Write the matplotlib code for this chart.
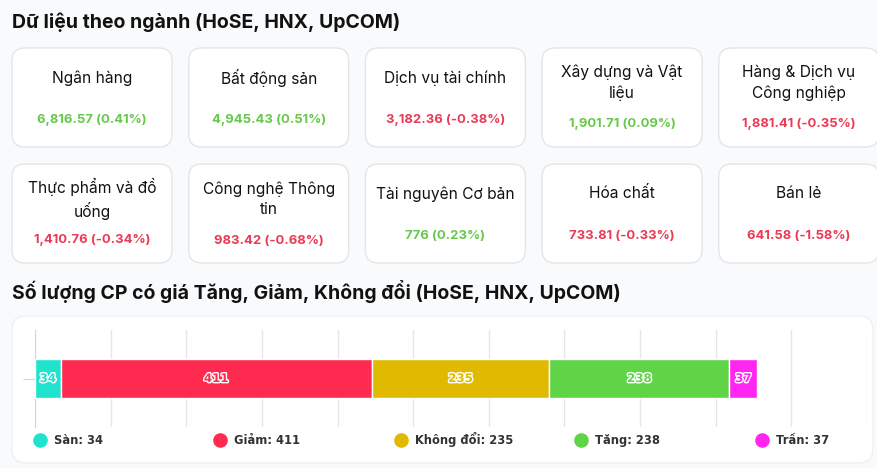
import matplotlib
matplotlib.use("Agg")
import matplotlib.pyplot as plt
from matplotlib.patches import FancyBboxPatch
import matplotlib.patheffects as pe

# sector cards
sector_names = ["Ngân hàng", "Bất động sản", "Dịch vụ tài chính", "Xây dựng và Vật\nliệu",
                "Hàng & Dịch vụ\nCông nghiệp", "Thực phẩm và đồ\nuống", "Công nghệ Thông\ntin",
                "Tài nguyên Cơ bản", "Hóa chất", "Bán lẻ"]
sector_values = [6816.57, 4945.43, 3182.36, 1901.71, 1881.41, 1410.76, 983.42, 776, 733.81, 641.58]
sector_changes = [0.41, 0.51, -0.38, 0.09, -0.35, -0.34, -0.68, 0.23, -0.33, -1.58]

# stock counts
count_labels = ["Sàn", "Giảm", "Không đổi", "Tăng", "Trần"]
count_values = [34, 411, 235, 238, 37]
count_colors = ["#1fe3cd", "#ff2a50", "#dfba00", "#5fd446", "#ff26f2"]

UP = "#66c94a"
DOWN = "#ea3a55"
FONT = ["Inter", "DejaVu Sans"]

W, H = 878, 468
fig = plt.figure(figsize=(W / 100, H / 100), dpi=100)
fig.patch.set_facecolor("#f9fafb")

bg = fig.add_axes([0, 0, 1, 1])
bg.set_xlim(0, W)
bg.set_ylim(H, 0)
bg.axis("off")


def fmt_value(v):
    if float(v).is_integer():
        return f"{int(v):,}"
    return f"{v:,.2f}"


bg.text(12, 22, "Dữ liệu theo ngành (HoSE, HNX, UpCOM)", fontsize=14,
        fontweight="bold", family=FONT, va="center", ha="left", color="#111")

card_w, card_h, step = 160, 99, 176.7
row_tops = [48, 164]
for i, (name, val, chg) in enumerate(zip(sector_names, sector_values, sector_changes)):
    row, col = divmod(i, 5)
    x0 = 12 + col * step
    y0 = row_tops[row]
    bg.add_patch(FancyBboxPatch((x0, y0), card_w, card_h,
                                boxstyle="round,pad=0,rounding_size=13",
                                fc="white", ec="#e3e5e8", lw=1))
    n = name.count("\n") + 1
    c = y0 + card_h / 2
    bg.text(x0 + card_w / 2, c - 19.5 + 5 * (n - 1), name, fontsize=11.2, family=FONT,
            ha="center", va="center", color="#111", linespacing=1.45)
    bg.text(x0 + card_w / 2, c + 22.5 + 4.5 * (n - 1), f"{fmt_value(val)} ({chg:.2f}%)",
            fontsize=9.4, fontweight="bold", family=FONT, ha="center", va="center",
            color=UP if chg >= 0 else DOWN)

bg.text(12, 292, "Số lượng CP có giá Tăng, Giảm, Không đổi (HoSE, HNX, UpCOM)",
        fontsize=14, fontweight="bold", family=FONT, va="center", ha="left", color="#111")

bg.add_patch(FancyBboxPatch((12, 316), 861, 147, boxstyle="round,pad=0,rounding_size=14",
                            fc="white", ec="#eef0f3", lw=1))

# stacked bar
ax = fig.add_axes([35 / W, (H - 427) / H, (867 - 35) / W, (427 - 330) / H])
ax.set_xlim(0, 1100)
ax.set_ylim(-0.5, 0.5)
ax.set_xticks(range(0, 1101, 100))
ax.set_yticks([0])
ax.tick_params(axis="x", length=0, labelbottom=False)
ax.tick_params(axis="y", length=9, color="#ccd6eb", labelleft=False)
ax.grid(axis="x", color="#e6e6e6", lw=1)
ax.set_axisbelow(True)
for s in ["top", "right", "bottom"]:
    ax.spines[s].set_visible(False)
ax.spines["left"].set_color("#ccd6eb")
ax.patch.set_alpha(0)

left = 0
for lab, v, col in zip(count_labels, count_values, count_colors):
    ax.barh(0, v, left=left, height=0.4, color=col, edgecolor="white", lw=1, zorder=3)
    t = ax.text(left + v / 2, 0, str(v), ha="center", va="center", fontsize=8.5,
                fontweight="bold", color=col, family="DejaVu Sans", zorder=4)
    t.set_path_effects([pe.withStroke(linewidth=2, foreground="white")])
    left += v

# legend
for i, (lab, v, col) in enumerate(zip(count_labels, count_values, count_colors)):
    lx = 40 + i * 180.5
    bg.scatter(lx, 440, s=90, color=col, zorder=5)
    bg.text(lx + 14, 444, f"{lab}: {v}", fontsize=8.3, fontweight="bold",
            family="DejaVu Sans", va="baseline", ha="left", color="#333")

fig.savefig("out.png", dpi=100, facecolor=fig.get_facecolor())
